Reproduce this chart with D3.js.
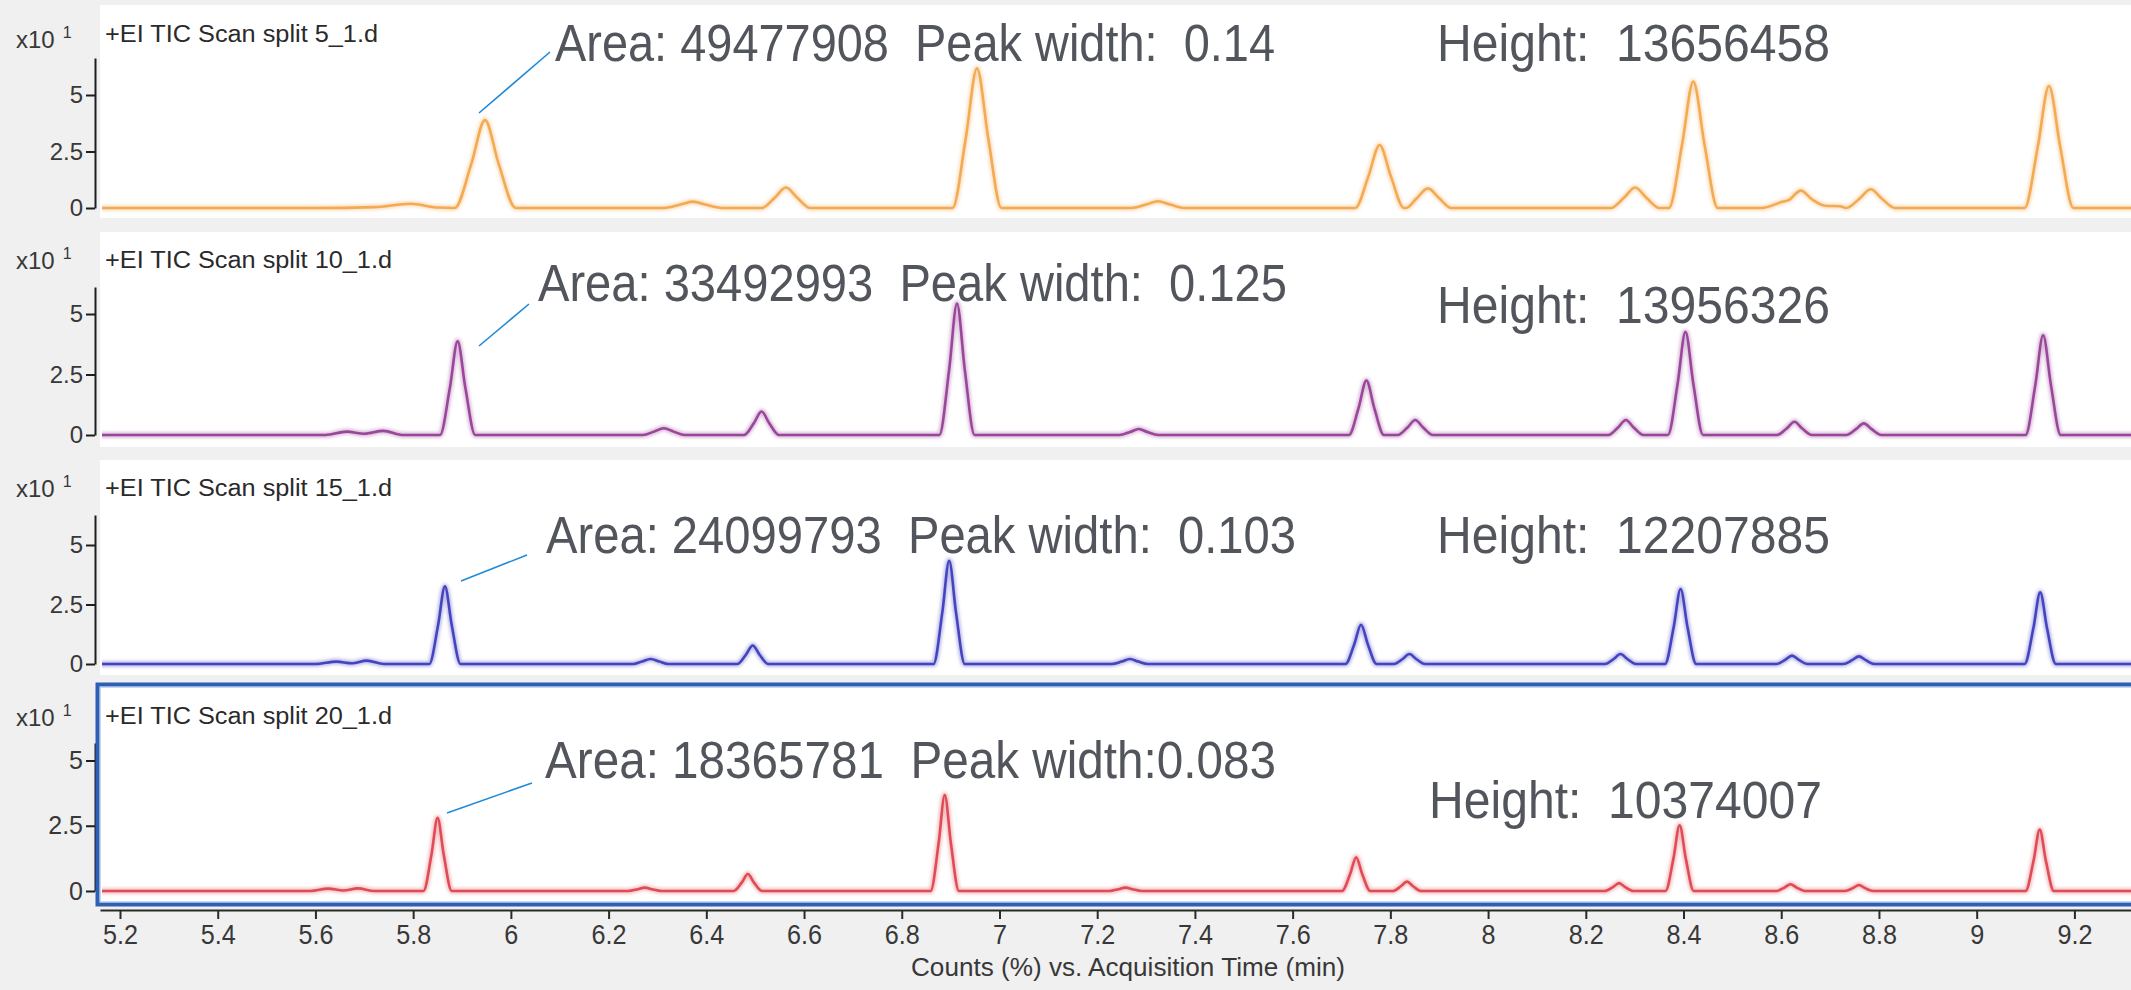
<!DOCTYPE html>
<html>
<head>
<meta charset="utf-8">
<script src="https://cdn.jsdelivr.net/npm/d3@7"></script>
<style>
  html, body { margin: 0; padding: 0; background: #f0f0f0; overflow: hidden; }
  svg { display: block; }
  text { font-family: "Liberation Sans", Arial, sans-serif; white-space: pre; }
</style>
</head>
<body>
<svg id="chart" width="2131" height="990"></svg>
<script>
// ---- data -------------------------------------------------------------
const sampleNames = [
  "+EI TIC Scan split 5_1.d",
  "+EI TIC Scan split 10_1.d",
  "+EI TIC Scan split 15_1.d",
  "+EI TIC Scan split 20_1.d"
];
const traceColors = ["#f4aa52", "#9a479a", "#4444c0", "#e04c56"];
const xTicks = [5.2, 5.4, 5.6, 5.8, 6, 6.2, 6.4, 6.6, 6.8, 7, 7.2, 7.4, 7.6, 7.8, 8, 8.2, 8.4, 8.6, 8.8, 9, 9.2];
const yTicks = [0, 2.5, 5];
const xTitle = "Counts (%) vs. Acquisition Time (min)";
const areaLabels = [
  "Area: 49477908  Peak width:  0.14",
  "Area: 33492993  Peak width:  0.125",
  "Area: 24099793  Peak width:  0.103",
  "Area: 18365781  Peak width:0.083"
];
const heightLabels = [
  "Height:  13656458",
  "Height:  13956326",
  "Height:  12207885",
  "Height:  10374007"
];

// [acquisition time (min), counts (x10 %)]
const traceSplit5 = [
  [5.15,0],[5.60,0],[5.72,0.04],[5.795,0.19],[5.85,0.02],[5.885,0],
  [5.919,1.95],[5.947,3.89],[5.975,1.95],[6.01,0],
  [6.31,0],[6.345,0.14],[6.372,0.28],[6.40,0.14],[6.435,0],
  [6.513,0],[6.54,0.455],[6.563,0.91],[6.586,0.455],[6.613,0],
  [6.904,0],[6.931,3.09],[6.954,6.18],[6.977,3.09],[7.004,0],
  [7.27,0],[7.30,0.15],[7.324,0.30],[7.35,0.15],[7.38,0],
  [7.728,0],[7.755,1.40],[7.778,2.79],[7.801,1.40],[7.828,0],
  [7.832,0],[7.854,0.43],[7.877,0.87],[7.90,0.43],[7.925,0],
  [8.251,0],[8.278,0.45],[8.301,0.91],[8.324,0.45],[8.351,0],
  [8.37,0],[8.397,2.80],[8.42,5.59],[8.443,2.80],[8.47,0],
  [8.56,0],[8.60,0.26],[8.615,0.35],[8.64,0.77],[8.663,0.38],[8.69,0.1],[8.72,0.08],
  [8.733,0],[8.76,0.41],[8.783,0.83],[8.806,0.41],[8.833,0],
  [9.098,0],[9.125,2.70],[9.148,5.40],[9.171,2.70],[9.198,0],
  [9.33,0]
];
const traceSplit10 = [
  [5.15,0],[5.62,0],[5.664,0.14],[5.70,0.05],[5.739,0.17],[5.78,0],
  [5.855,0],[5.875,1.93],[5.891,3.87],[5.907,1.93],[5.927,0],
  [6.27,0],[6.293,0.14],[6.313,0.28],[6.333,0.14],[6.356,0],
  [6.477,0],[6.497,0.48],[6.513,0.97],[6.529,0.48],[6.549,0],
  [6.877,0],[6.897,2.70],[6.913,5.43],[6.929,2.70],[6.949,0],
  [7.245,0],[7.267,0.12],[7.285,0.25],[7.303,0.12],[7.325,0],
  [7.715,0],[7.735,1.12],[7.751,2.25],[7.767,1.12],[7.787,0],
  [7.815,0],[7.835,0.31],[7.851,0.62],[7.867,0.31],[7.887,0],
  [8.246,0],[8.266,0.31],[8.282,0.62],[8.298,0.31],[8.318,0],
  [8.368,0],[8.388,2.13],[8.404,4.26],[8.42,2.13],[8.44,0],
  [8.591,0],[8.611,0.27],[8.627,0.55],[8.643,0.27],[8.663,0],
  [8.733,0],[8.753,0.24],[8.769,0.48],[8.785,0.24],[8.805,0],
  [9.10,0],[9.12,2.06],[9.136,4.12],[9.152,2.06],[9.172,0],
  [9.33,0]
];
const traceSplit15 = [
  [5.15,0],[5.60,0],[5.643,0.10],[5.675,0.03],[5.705,0.14],[5.74,0],
  [5.833,0],[5.851,1.63],[5.865,3.26],[5.879,1.63],[5.897,0],
  [6.25,0],[6.268,0.10],[6.286,0.21],[6.304,0.10],[6.322,0],
  [6.463,0],[6.481,0.39],[6.495,0.78],[6.509,0.39],[6.527,0],
  [6.865,0],[6.883,2.17],[6.897,4.34],[6.911,2.17],[6.929,0],
  [7.23,0],[7.25,0.10],[7.267,0.21],[7.284,0.10],[7.304,0],
  [7.708,0],[7.726,0.82],[7.74,1.65],[7.754,0.82],[7.772,0],
  [7.807,0],[7.825,0.21],[7.839,0.42],[7.853,0.21],[7.871,0],
  [8.239,0],[8.257,0.21],[8.271,0.42],[8.285,0.21],[8.303,0],
  [8.362,0],[8.38,1.57],[8.394,3.15],[8.408,1.57],[8.426,0],
  [8.59,0],[8.608,0.17],[8.622,0.35],[8.636,0.17],[8.654,0],
  [8.727,0],[8.745,0.16],[8.759,0.32],[8.773,0.16],[8.791,0],
  [9.098,0],[9.116,1.50],[9.13,3.01],[9.144,1.50],[9.162,0],
  [9.33,0]
];
const traceSplit20 = [
  [5.15,0],[5.59,0],[5.626,0.09],[5.657,0.02],[5.687,0.10],[5.72,0],
  [5.821,0],[5.8375,1.40],[5.85,2.80],[5.8625,1.40],[5.879,0],
  [6.24,0],[6.26,0.07],[6.274,0.13],[6.288,0.07],[6.308,0],
  [6.456,0],[6.4725,0.32],[6.485,0.65],[6.4975,0.32],[6.514,0],
  [6.859,0],[6.8755,1.84],[6.888,3.68],[6.9005,1.84],[6.917,0],
  [7.225,0],[7.244,0.07],[7.258,0.13],[7.272,0.07],[7.291,0],
  [7.701,0],[7.7175,0.64],[7.73,1.29],[7.7425,0.64],[7.759,0],
  [7.805,0],[7.8215,0.18],[7.834,0.36],[7.8465,0.18],[7.863,0],
  [8.239,0],[8.2555,0.15],[8.268,0.30],[8.2805,0.15],[8.297,0],
  [8.363,0],[8.3795,1.26],[8.392,2.52],[8.4045,1.26],[8.421,0],
  [8.59,0],[8.6065,0.13],[8.619,0.26],[8.6315,0.13],[8.648,0],
  [8.73,0],[8.7465,0.11],[8.759,0.23],[8.7715,0.11],[8.788,0],
  [9.10,0],[9.1165,1.17],[9.129,2.35],[9.1415,1.17],[9.158,0],
  [9.33,0]
];
const traces = [traceSplit5, traceSplit10, traceSplit15, traceSplit20];

// ---- layout -----------------------------------------------------------
const W = 2131, H = 990;
const plotLeft = 100, plotRight = W;
const axisX = 95;
const panelBoxes = [
  { top: 5,   bottom: 218, zero: 208, five: 95,    axisTop: 58,  titleY: 42,  expY: 48  },
  { top: 232, bottom: 447, zero: 435, five: 314,   axisTop: 287, titleY: 268, expY: 269 },
  { top: 460, bottom: 675, zero: 664, five: 545,   axisTop: 515, titleY: 496, expY: 497 },
  { top: 686, bottom: 903, zero: 891, five: 760.5, axisTop: 743, titleY: 724, expY: 726 }
];
const annot = [
  { area: [555, 61, 720], height: [1437, 61, 393], leader: [[479, 113], [550, 52]] },
  { area: [538, 301, 749], height: [1437, 323, 393], leader: [[479, 346], [529, 304]] },
  { area: [546, 553, 750], height: [1437, 553, 393], leader: [[461, 581], [527, 555]] },
  { area: [545, 778, 731], height: [1429, 818, 393], leader: [[447, 813], [532, 783]] }
];
const titleLen = [273, 287, 287, 287];

const svg = d3.select("#chart");
svg.append("rect").attr("width", W).attr("height", H).attr("fill", "#f0f0f0");

const x = d3.scaleLinear().domain([5.2, 9.2]).range([120, 2074.4]);

const defs = svg.append("defs");
const glow = defs.append("filter").attr("id", "soft").attr("x", "-5%").attr("y", "-20%").attr("width", "110%").attr("height", "140%");
glow.append("feGaussianBlur").attr("stdDeviation", 1.6);

panelBoxes.forEach((p, i) => {
  const g = svg.append("g");
  // plot background
  g.append("rect")
    .attr("x", plotLeft).attr("y", p.top)
    .attr("width", plotRight - plotLeft).attr("height", p.bottom - p.top)
    .attr("fill", "#ffffff");

  const yTopVal = 5 * (p.zero - p.axisTop) / (p.zero - p.five);
  const y = d3.scaleLinear().domain([0, yTopVal]).range([p.zero, p.axisTop]);

  // clip to the plot area
  const clipId = "clip" + i;
  defs.append("clipPath").attr("id", clipId)
    .append("rect")
    .attr("x", plotLeft + 2).attr("y", p.top)
    .attr("width", plotRight - plotLeft).attr("height", p.bottom - p.top);

  const line = d3.line()
    .x(d => x(d[0]))
    .y(d => y(d[1]))
    .curve(d3.curveMonotoneX);

  const traceG = g.append("g").attr("clip-path", `url(#${clipId})`);
  traceG.append("path")
    .datum(traces[i])
    .attr("d", line)
    .attr("fill", "none")
    .attr("stroke", traceColors[i])
    .attr("stroke-opacity", 0.35)
    .attr("stroke-width", 6)
    .attr("filter", "url(#soft)");
  traceG.append("path")
    .datum(traces[i])
    .attr("d", line)
    .attr("fill", "none")
    .attr("stroke", traceColors[i])
    .attr("stroke-width", 2.6)
    .attr("stroke-linejoin", "round");

  // y axis
  const yAxis = d3.axisLeft(y)
    .tickValues(yTicks)
    .tickSize(9)
    .tickSizeOuter(0)
    .tickPadding(3)
    .tickFormat(d => String(d));
  const ya = g.append("g").attr("transform", `translate(${axisX},0)`).call(yAxis);
  ya.select(".domain").attr("stroke", "#1e1e1e").attr("stroke-width", 2);
  ya.selectAll(".tick line").attr("stroke", "#1e1e1e").attr("stroke-width", 2);
  ya.selectAll(".tick text")
    .attr("fill", "#383838")
    .style("font-size", i === 3 ? "25px" : "24px");

  // exponent label
  const ex = g.append("text").attr("x", 16).attr("y", p.expY)
    .attr("fill", "#383838").style("font-size", "24px");
  ex.append("tspan").text("x10");
  ex.append("tspan").attr("dx", 8).attr("dy", -10).style("font-size", "16px").text("1");

  // sample title
  g.append("text")
    .attr("x", 105).attr("y", p.titleY)
    .attr("fill", "#2a2a2a")
    .attr("textLength", titleLen[i]).attr("lengthAdjust", "spacingAndGlyphs")
    .style("font-size", "23px")
    .text(sampleNames[i]);

  // peak annotation
  const a = annot[i];
  g.append("line")
    .attr("x1", a.leader[0][0]).attr("y1", a.leader[0][1])
    .attr("x2", a.leader[1][0]).attr("y2", a.leader[1][1])
    .attr("stroke", "#1f8ad8").attr("stroke-width", 1.6);
  g.append("text")
    .attr("x", a.area[0]).attr("y", a.area[1])
    .attr("textLength", a.area[2]).attr("lengthAdjust", "spacingAndGlyphs")
    .attr("fill", "#52565c").style("font-size", "51px")
    .text(areaLabels[i]);
  g.append("text")
    .attr("x", a.height[0]).attr("y", a.height[1])
    .attr("textLength", a.height[2]).attr("lengthAdjust", "spacingAndGlyphs")
    .attr("fill", "#52565c").style("font-size", "51px")
    .text(heightLabels[i]);
});

// selected-panel frame around the last trace
svg.append("rect")
  .attr("x", 97.5).attr("y", 684.5).attr("width", W).attr("height", 220)
  .attr("fill", "none").attr("stroke", "#2f5fb3").attr("stroke-width", 4);
svg.append("rect")
  .attr("x", 100).attr("y", 687).attr("width", W).attr("height", 215)
  .attr("fill", "none").attr("stroke", "#8fb2e8").attr("stroke-width", 1);

// shared x axis
const xAxisScale = x.copy().domain([x.invert(plotLeft), x.invert(plotRight)]).range([plotLeft, plotRight]);
const xAxis = d3.axisBottom(xAxisScale)
  .tickValues(xTicks)
  .tickSize(9)
  .tickSizeOuter(0)
  .tickFormat(d3.format("~g"));
const xa = svg.append("g").attr("transform", "translate(0,910)").call(xAxis);
xa.select(".domain").attr("stroke", "#2a2a2a").attr("stroke-width", 2);
xa.selectAll(".tick line").attr("stroke", "#2a2a2a").attr("stroke-width", 2);
xa.selectAll(".tick text")
  .attr("y", 14)
  .attr("fill", "#383838")
  .attr("transform", "scale(0.9,1)")
  .style("font-size", "28px");

svg.append("text")
  .attr("x", 911).attr("y", 976)
  .attr("textLength", 434).attr("lengthAdjust", "spacingAndGlyphs")
  .attr("fill", "#383838").style("font-size", "25px")
  .text(xTitle);
</script>
</body>
</html>
